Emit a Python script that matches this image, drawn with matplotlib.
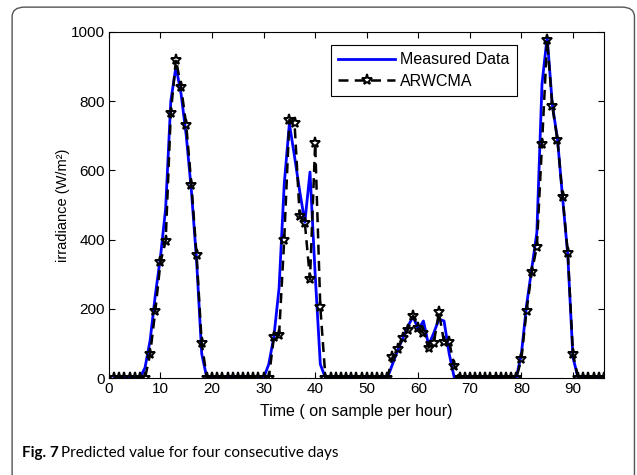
import numpy as np
import matplotlib
matplotlib.use("Agg")
import matplotlib.pyplot as plt
from matplotlib.patches import FancyBboxPatch

# ===== Data =====
hours = list(range(1, 97))

measured = [
    0, 0, 0, 0, 0, 0, 30,                                    # 1-7
    110, 240, 350, 490, 800, 900, 820, 700, 540, 340, 70, 0,  # 8-19
    0, 0, 0, 0, 0, 0, 0, 0, 0, 0,                            # 20-29
    0, 40, 120, 260, 560, 735, 640, 540, 450, 595, 300, 40, 0,  # 30-42
    0, 0, 0, 0, 0, 0, 0, 0, 0, 0, 0,                         # 43-53
    0, 40, 80, 115, 150, 178, 140, 165, 95, 130, 170, 165, 70, 0,  # 54-67
    0, 0, 0, 0, 0, 0, 0, 0, 0, 0, 0,                         # 68-78
    0, 70, 210, 315, 420, 850, 985, 790, 690, 520, 355, 60, 0,  # 79-91
    0, 0, 0, 0, 0,                                           # 92-96
]

arwcma = [
    0, 0, 0, 0, 0, 0, 0,                                     # 1-7
    70, 195, 335, 395, 765, 920, 840, 730, 558, 355, 100, 0,  # 8-19
    0, 0, 0, 0, 0, 0, 0, 0, 0, 0,                            # 20-29
    0, 0, 118, 125, 400, 746, 737, 468, 448, 286, 678, 205, 0,  # 30-42
    0, 0, 0, 0, 0, 0, 0, 0, 0, 0, 0,                         # 43-53
    0, 60, 85, 115, 140, 180, 145, 130, 88, 100, 190, 104, 104, 35,  # 54-67
    0, 0, 0, 0, 0, 0, 0, 0, 0, 0, 0,                         # 68-78
    0, 55, 195, 305, 380, 675, 977, 785, 688, 522, 362, 70, 0,  # 79-91
    0, 0, 0, 0, 0,                                           # 92-96
]

x_ticks = [0, 10, 20, 30, 40, 50, 60, 70, 80, 90]
y_ticks = [0, 200, 400, 600, 800, 1000]

# ===== Plot =====
plt.rcParams['font.family'] = ['Liberation Sans', 'DejaVu Sans']

fig = plt.figure(figsize=(6.37, 4.75), dpi=100)
ax = fig.add_axes([0.171, 0.204, 0.777, 0.729])

ax.plot(hours, measured, color='#0000ff', lw=2.0, label='Measured Data')
ax.plot(hours, arwcma, color='black', lw=1.8, ls=(0, (4, 2.5)),
        marker='*', ms=8, mfc='none', mec='black', mew=1.4,
        label='ARWCMA')

ax.set_xlim(0, 96)
ax.set_ylim(0, 1000)
ax.set_xticks(x_ticks)
ax.set_yticks(y_ticks)
ax.tick_params(direction='in', top=True, right=True, length=4,
               labelsize=11, width=0.8, pad=3)
for s in ax.spines.values():
    s.set_linewidth(0.8)

ax.set_xlabel('Time ( on sample per hour)', fontsize=11.5)
ax.set_ylabel('irradiance (W/m²)', fontsize=10.5)
ax.xaxis.set_label_coords(0.5, -0.075)
ax.yaxis.set_label_coords(-0.079, 0.5)

leg = ax.legend(loc='upper left', bbox_to_anchor=(0.448, 0.962),
                borderaxespad=0, fancybox=False, edgecolor='black',
                fontsize=11.5, handlelength=3.6, handletextpad=0.3,
                borderpad=0.45, labelspacing=0.4, framealpha=1)
leg.get_frame().set_linewidth(0.8)

# outer figure frame with rounded corner
frame = FancyBboxPatch((0.019, -0.05), 0.977, 1.035,
                       boxstyle='round,pad=0,rounding_size=0.02',
                       transform=fig.transFigure, fill=False,
                       edgecolor='#555555', lw=1.0)
fig.patches.append(frame)

fig.text(0.035, 0.046, 'Fig. 7', fontsize=11, fontweight='bold',
         family=['Lato', 'DejaVu Sans'], va='center')
fig.text(0.095, 0.046, 'Predicted value for four consecutive days',
         fontsize=11, family=['Lato', 'DejaVu Sans'], va='center')

fig.savefig('out.png', dpi=100)
